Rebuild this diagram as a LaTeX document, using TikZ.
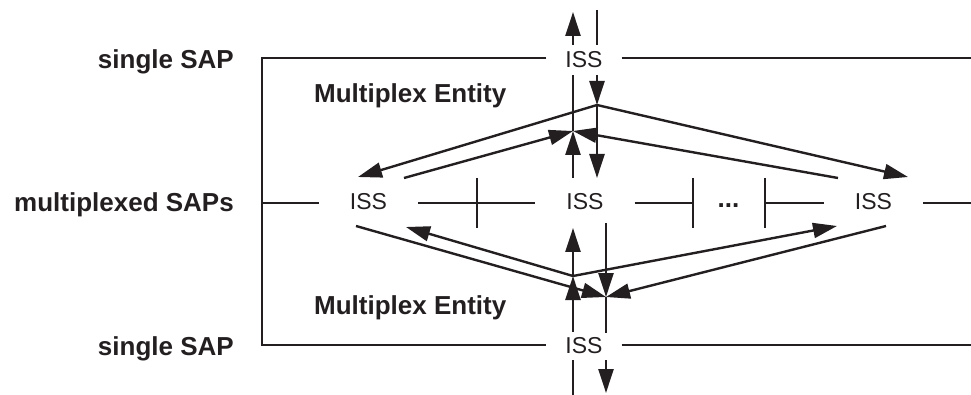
\documentclass[tikz,border=0pt]{standalone}
\usepackage{fontspec}
\setmainfont{Liberation Sans}
\usetikzlibrary{arrows.meta}
\definecolor{ink}{RGB}{35,31,32}
\begin{document}
\begin{tikzpicture}[x=1pt,y=-1pt,
  every path/.style={draw=ink,line width=2.4pt},
  arr/.style={-{Triangle[length=24pt,width=15pt]}},
  issT/.style={inner xsep=18pt,inner ysep=0pt,font=\fontsize{23}{23}\selectfont,text=ink,draw=none},
  issM/.style={inner xsep=30pt,inner ysep=0pt,font=\fontsize{23}{23}\selectfont,text=ink,draw=none},
  lbl/.style={inner sep=0pt,font=\fontsize{26}{26}\selectfont\bfseries,text=ink,draw=none}]
\useasboundingbox[draw=none] (0,0) rectangle (971,395);
% labels
\node[lbl,anchor=base east] (l1) at (235,69) {single SAP};
\node[lbl,anchor=base east] (l2) at (235,212) {multiplexed SAPs};
\node[lbl,anchor=base east] (l3) at (235,355) {single SAP};
\node[lbl,anchor=base west] (me1) at (313,103) {Multiplex Entity};
\node[lbl,anchor=base west] (me2) at (313,314) {Multiplex Entity};
% ISS nodes
\node[issT] (issTop) at (584,59.5) {ISS};
\node[issT] (issBot) at (584,346) {ISS};
\node[issM] (issL) at (368.5,202) {ISS};
\node[issM] (issC) at (585,202) {ISS};
\node[issM] (issR) at (873.5,202) {ISS};
\node[lbl,anchor=base] (dots) at (728.5,207.5) {...};
% frame coordinates
\coordinate (cTL) at (262,58);
\coordinate (cML) at (262,203);
\coordinate (cBL) at (262,345);
\coordinate (eT) at (971,58);
\coordinate (eM) at (971,203);
\coordinate (eB) at (971,345);
\coordinate (t1a) at (477,178); \coordinate (t1b) at (477,228);
\coordinate (t2a) at (693,178); \coordinate (t2b) at (693,228);
\coordinate (t3a) at (765,178); \coordinate (t3b) at (765,228);
\coordinate (t1) at (477,203); \coordinate (t2) at (693,203); \coordinate (t3) at (765,203);
% frame
\draw (issTop.west |- cTL) -- (cTL) -- (cBL) -- (issBot.west |- cBL);
\draw (issTop.east |- eT) -- (eT);
\draw (issBot.east |- eB) -- (eB);
\draw (cML) -- (issL.west |- cML);
\draw (issL.east |- cML) -- (issC.west |- cML);
\draw (issC.east |- cML) -- (t2);
\draw (t3) -- (issR.west |- cML);
\draw (issR.east |- eM) -- (eM);
\draw (t1a) -- (t1b);
\draw (t2a) -- (t2b);
\draw (t3a) -- (t3b);
% top entity coordinates
\coordinate (aT0) at (573,12); \coordinate (aT1) at (573,45); \coordinate (aT2) at (573,75);
\coordinate (J1) at (573,131); \coordinate (aT3) at (573,178);
\coordinate (bT0) at (597,10); \coordinate (bT1) at (597,45); \coordinate (bT2) at (597,75);
\coordinate (J2) at (597,105); \coordinate (bT3) at (597,178);
\coordinate (L1) at (358,177); \coordinate (L2) at (404,178);
\coordinate (R1) at (908,177); \coordinate (R2) at (838,178);
\draw[arr] (aT3) -- (J1);
\draw (J1) -- (aT2);
\draw[arr] (aT1) -- (aT0);
\draw (bT0) -- (bT1);
\draw[arr] (bT2) -- (J2);
\draw[arr] (J2) -- (bT3);
\draw[arr] (J2) -- (L1);
\draw[arr] (J2) -- (R1);
\draw[arr] (L2) -- (J1);
\draw[arr] (R2) -- (J1);
% bottom entity coordinates
\coordinate (cB0) at (573,395); \coordinate (cB1) at (573,360); \coordinate (cB2) at (573,332);
\coordinate (J3) at (573,276); \coordinate (cB3) at (573,228);
\coordinate (dB0) at (606,223); \coordinate (J4) at (606,297); \coordinate (dB1) at (606,333);
\coordinate (dB2) at (606,360); \coordinate (dB3) at (606,393);
\coordinate (L3) at (356,226); \coordinate (L4) at (406,227);
\coordinate (R3) at (886,226); \coordinate (R4) at (837,226);
\draw (cB0) -- (cB1);
\draw[arr] (cB2) -- (J3);
\draw[arr] (J3) -- (cB3);
\draw[arr] (dB0) -- (J4);
\draw (J4) -- (dB1);
\draw[arr] (dB2) -- (dB3);
\draw[arr] (J3) -- (L4);
\draw[arr] (J3) -- (R4);
\draw[arr] (L3) -- (J4);
\draw[arr] (R3) -- (J4);
\end{tikzpicture}
\end{document}
